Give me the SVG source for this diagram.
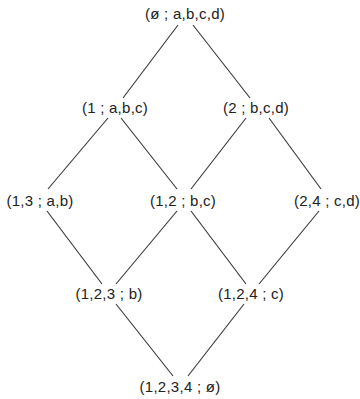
<svg xmlns="http://www.w3.org/2000/svg" width="360" height="399" viewBox="0 0 360 399">
<style>
.t{font-family:"Liberation Sans",Arial,sans-serif;font-size:15px;fill:#222;text-anchor:middle;letter-spacing:0.25px}
.e line{stroke:#333;stroke-width:1.1}
</style>
<rect width="360" height="399" fill="#fff"/>
<g id="connectors" class="e">
<line x1="178" y1="25" x2="123" y2="98"/>
<line x1="193" y1="25" x2="250" y2="98"/>
<line x1="108" y1="118" x2="48" y2="189"/>
<line x1="121" y1="118" x2="177" y2="189"/>
<line x1="246" y1="118" x2="191" y2="189"/>
<line x1="269" y1="118" x2="321" y2="189"/>
<line x1="47" y1="211" x2="102" y2="284"/>
<line x1="177" y1="211" x2="116" y2="284"/>
<line x1="191" y1="211" x2="246" y2="284"/>
<line x1="319" y1="211" x2="259" y2="284"/>
<line x1="116" y1="304" x2="173" y2="376"/>
<line x1="244" y1="304" x2="188" y2="376"/>
</g>
<g id="n0"><text class="t" x="185" y="19">(ø ; a,b,c,d)</text></g>
<g id="n1"><text class="t" x="115" y="113">(1 ; a,b,c)</text></g>
<g id="n2"><text class="t" x="256" y="113">(2 ; b,c,d)</text></g>
<g id="n13"><text class="t" x="40" y="206">(1,3 ; a,b)</text></g>
<g id="n12"><text class="t" x="183" y="206">(1,2 ; b,c)</text></g>
<g id="n24"><text class="t" x="327" y="206">(2,4 ; c,d)</text></g>
<g id="n123"><text class="t" x="109" y="299">(1,2,3 ; b)</text></g>
<g id="n124"><text class="t" x="251" y="299">(1,2,4 ; c)</text></g>
<g id="n1234"><text class="t" x="180" y="392">(1,2,3,4 ; ø)</text></g>
</svg>
